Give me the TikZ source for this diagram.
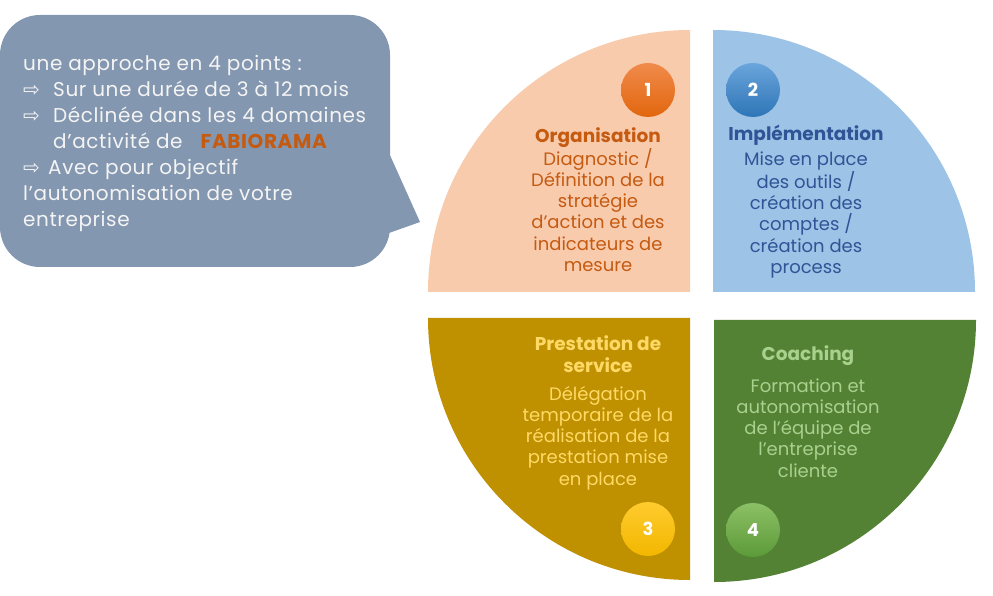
\documentclass[tikz,border=0pt]{standalone}
\usepackage{fontspec}
\setmainfont{Poppins}
\newfontfamily\symfont{DejaVu Sans}
\definecolor{peach}{HTML}{F8CBAD}
\definecolor{peachtext}{HTML}{C55A11}
\definecolor{sky}{HTML}{9DC3E6}
\definecolor{skytext}{HTML}{2F5597}
\definecolor{gold}{HTML}{BF9000}
\definecolor{goldtext}{HTML}{FFD966}
\definecolor{leaf}{HTML}{548235}
\definecolor{leaftext}{HTML}{A9D18E}
\definecolor{slate}{HTML}{8497B0}
\definecolor{snow}{HTML}{F4F4F4}
\definecolor{dot1top}{HTML}{F08A4B}
\definecolor{dot1bot}{HTML}{E2670E}
\definecolor{dot2top}{HTML}{6AA5DC}
\definecolor{dot2bot}{HTML}{2E75B6}
\definecolor{dot3top}{HTML}{FFCB2E}
\definecolor{dot3bot}{HTML}{F2B700}
\definecolor{dot4top}{HTML}{8CC066}
\definecolor{dot4bot}{HTML}{5C9A38}
\newcommand{\pointer}{{\symfont ⇨}}
\begin{document}
\begin{tikzpicture}[x=1pt, y=1pt, line join=round, line cap=round,
	quartitle/.style={align=center, inner sep=0pt, font=\fontsize{18.5}{22}\selectfont\bfseries},
	quartext/.style={align=center, inner sep=0pt, font=\fontsize{18}{21.2}\selectfont},
	numdot/.style={circle, minimum size=54pt, inner sep=0pt, text=white, font=\fontsize{18}{18}\selectfont\bfseries}]
	\useasboundingbox (0,0) rectangle (993,595);
	\coordinate (O1) at (690,303);
	\coordinate (O2) at (713,303);
	\coordinate (O3) at (690,277);
	\coordinate (O4) at (714,275);
	\fill[peach] (O1) -- ++(-262,0) arc (180:90:262) -- cycle;
	\fill[sky] (O2) -- ++(262,0) arc (0:90:262) -- cycle;
	\fill[gold] (O3) -- ++(-262,0) arc (180:270:262) -- cycle;
	\fill[leaf] (O4) -- ++(262,0) arc (0:-90:262) -- cycle;
	\fill[slate, rounded corners=40pt] (0,328) rectangle (390,580);
	\fill[slate] (389,442) -- (420,373) -- (389,362) -- cycle;
	\node[anchor=north west, align=left, inner sep=0pt, text=snow, font=\fontsize{20}{26}\selectfont\addfontfeatures{LetterSpace=3}] (pitch) at (23,540) {une approche en 4 points :\\
		\makebox[30pt][l]{\pointer}Sur une durée de 3 à 12 mois\\
		\makebox[30pt][l]{\pointer}Déclinée dans les 4 domaines\\
		\hspace*{30pt}d’activité de \hspace{12pt}{\bfseries\color{peachtext}FABIORAMA}\\
		\makebox[25pt][l]{\pointer}Avec pour objectif\\
		l’autonomisation de votre\\
		entreprise};
	\node[numdot, top color=dot1top, bottom color=dot1bot] (n1) at (648,505) {1};
	\node[numdot, top color=dot2top, bottom color=dot2bot] (n2) at (753,505) {2};
	\node[numdot, top color=dot3top, bottom color=dot3bot] (n3) at (648,66) {3};
	\node[numdot, top color=dot4top, bottom color=dot4bot] (n4) at (753,65) {4};
	\node[quartitle, text=peachtext] (t1) at (598,457) {Organisation};
	\node[quartext, text=peachtext] (b1) at (598,385) {Diagnostic /\\Définition de la\\stratégie\\d’action et des\\indicateurs de\\mesure};
	\node[quartitle, text=skytext] (t2) at (806,460) {Implémentation};
	\node[quartext, text=skytext] (b2) at (806,380) {Mise en place\\des outils /\\création des\\comptes /\\création des\\process};
	\node[quartitle, text=goldtext] (t3) at (598,241) {Prestation de\\service};
	\node[quartext, text=goldtext] (b3) at (598,157) {Délégation\\temporaire de la\\réalisation de la\\prestation mise\\en place};
	\node[quartitle, text=leaftext] (t4) at (808,239) {Coaching};
	\node[quartext, text=leaftext] (b4) at (808,167) {Formation et\\autonomisation\\de l’équipe de\\l’entreprise\\cliente};
\end{tikzpicture}
\end{document}
